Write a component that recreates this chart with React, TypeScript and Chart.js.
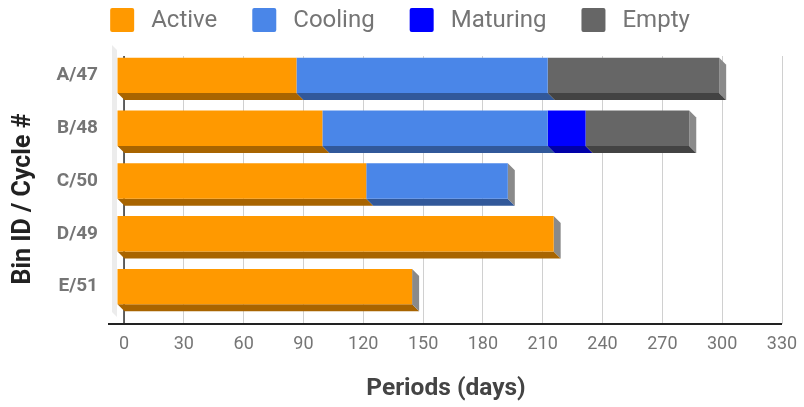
import React, { useEffect, useRef } from 'react';
import { Chart, registerables } from 'chart.js';

Chart.register(...registerables);

const categories = ['A/47', 'B/48', 'C/50', 'D/49', 'E/51'];
const seriesNames = ['Active', 'Cooling', 'Maturing', 'Empty'];
const activeDays = [90, 103, 125, 219, 148];
const coolingDays = [126, 113, 71, 0, 0];
const maturingDays = [0, 19, 0, 0, 0];
const emptyDays = [86, 52, 0, 0, 0];
const xMin = 0;
const xMax = 330;
const xStep = 30;

const faceColors = ['#ff9900', '#4a86e8', '#0000ff', '#666666'];
const bottomColors = ['#a86400', '#31589a', '#0000a8', '#434343'];
const sideColor = '#8a8a8a';
const DX = 7;
const DY = 7;
const TICK = 4;
const FONT = 'Roboto';

const depthPlugin = {
  id: 'depth3d',
  beforeDatasetsDraw(chart: any) {
    const ctx = chart.ctx;
    const { left, top, bottom } = chart.chartArea;
    const axisY = bottom + TICK;
    ctx.save();
    // left wall
    ctx.fillStyle = '#ececec';
    ctx.beginPath();
    ctx.moveTo(left - 12, top - 11);
    ctx.lineTo(left - DX, top - DY + 1);
    ctx.lineTo(left - DX, axisY - DY);
    ctx.lineTo(left, axisY);
    ctx.lineTo(left - 12, axisY - 12);
    ctx.closePath();
    ctx.fill();
    // vertical axis line on back plane
    ctx.strokeStyle = '#333333';
    ctx.lineWidth = 1.5;
    ctx.beginPath();
    ctx.moveTo(left, top);
    ctx.lineTo(left, axisY);
    ctx.stroke();
    ctx.restore();

    const nRows = chart.data.labels.length;
    const lastIdx: number[] = new Array(nRows).fill(-1);
    chart.data.datasets.forEach((ds: any, di: number) => {
      ds.data.forEach((v: number, i: number) => {
        if (v > 0) lastIdx[i] = di;
      });
    });

    ctx.save();
    chart.data.datasets.forEach((ds: any, di: number) => {
      const meta = chart.getDatasetMeta(di);
      meta.data.forEach((el: any, i: number) => {
        const x0 = Math.min(el.base, el.x);
        const x1 = Math.max(el.base, el.x);
        if (x1 - x0 < 0.5) return;
        const yb = el.y + el.height / 2;
        ctx.fillStyle = bottomColors[di];
        ctx.beginPath();
        ctx.moveTo(x0 - DX, yb - DY);
        ctx.lineTo(x1 - DX, yb - DY);
        ctx.lineTo(x1, yb);
        ctx.lineTo(x0, yb);
        ctx.closePath();
        ctx.fill();
        if (lastIdx[i] === di) {
          const yt = el.y - el.height / 2;
          ctx.fillStyle = sideColor;
          ctx.beginPath();
          ctx.moveTo(x1 - DX, yt - DY);
          ctx.lineTo(x1, yt);
          ctx.lineTo(x1, yb);
          ctx.lineTo(x1 - DX, yb - DY);
          ctx.closePath();
          ctx.fill();
        }
      });
    });
    ctx.restore();
    ctx.save();
    ctx.translate(-DX, -DY);
  },
  afterDatasetsDraw(chart: any) {
    const ctx = chart.ctx;
    ctx.restore();
    const { left, right, top, bottom } = chart.chartArea;
    const axisY = bottom + TICK;
    ctx.save();
    // x axis line
    ctx.strokeStyle = '#222222';
    ctx.lineWidth = 2;
    ctx.beginPath();
    ctx.moveTo(left - 16, axisY);
    ctx.lineTo(right, axisY);
    ctx.stroke();

    // axis titles
    ctx.fillStyle = '#444444';
    ctx.font = `bold 24.5px ${FONT}`;
    ctx.textAlign = 'center';
    ctx.textBaseline = 'middle';
    ctx.fillText('Periods (days)', (left + right) / 2 - DX, 389);

    ctx.save();
    ctx.fillStyle = '#222222';
    ctx.font = `bold 25px ${FONT}`;
    ctx.translate(24, (top + bottom) / 2 + 11);
    ctx.rotate(-Math.PI / 2);
    ctx.fillText('Bin ID / Cycle #', 0, 0);
    ctx.restore();

    // legend
    ctx.font = `24px ${FONT}`;
    ctx.textAlign = 'left';
    ctx.textBaseline = 'middle';
    const box = 24;
    const gapText = 17;
    const gapItem = 35;
    const widths = chart.data.datasets.map((ds: any) => box + gapText + ctx.measureText(ds.label).width);
    const total = widths.reduce((a: number, b: number) => a + b, 0) + gapItem * (widths.length - 1);
    let x = chart.width / 2 - 2 - total / 2;
    const cy = 20;
    chart.data.datasets.forEach((ds: any, di: number) => {
      ctx.fillStyle = faceColors[di];
      ctx.beginPath();
      (ctx as any).roundRect(x, cy - box / 2, box, box, 2);
      ctx.fill();
      ctx.fillStyle = '#757575';
      ctx.fillText(ds.label, x + box + gapText, cy + 1);
      x += widths[di] + gapItem;
    });
    ctx.restore();
  },
};

export default function App() {
  const ref = useRef<HTMLCanvasElement | null>(null);
  useEffect(() => {
    document.body.style.margin = '0';
    if (!ref.current) return;
    const seriesData = [activeDays, coolingDays, maturingDays, emptyDays];
    const chart = new Chart(ref.current, {
      type: 'bar',
      data: {
        labels: categories,
        datasets: seriesNames.map((name, i) => ({
          label: name,
          data: seriesData[i],
          backgroundColor: faceColors[i],
          borderWidth: 0,
          categoryPercentage: 1,
          barPercentage: 0.67,
          clip: false as any,
        })),
      },
      options: {
        indexAxis: 'y',
        animation: false,
        responsive: false,
        maintainAspectRatio: false,
        layout: { padding: { top: 56, right: 22, left: 0, bottom: 0 } },
        plugins: {
          legend: { display: false },
          tooltip: { enabled: false },
        },
        scales: {
          x: {
            stacked: true,
            min: xMin,
            max: xMax,
            ticks: {
              stepSize: xStep,
              color: '#757575',
              font: { family: FONT, size: 18 },
              padding: 10,
              maxRotation: 0,
            },
            grid: { color: '#d0d0d0', drawTicks: true, tickLength: TICK, lineWidth: 1 },
            border: { display: false },
            afterFit: (s: any) => {
              s.height = 87;
              s.paddingLeft = 0;
              s.paddingRight = 0;
            },
          },
          y: {
            stacked: true,
            ticks: {
              color: '#757575',
              font: { family: FONT, size: 19, weight: 'bold' },
              padding: 26,
              labelOffset: -DY,
            },
            grid: { display: false, drawTicks: false },
            border: { display: false },
            afterFit: (s: any) => {
              s.width = 124;
              s.paddingTop = 0;
              s.paddingBottom = 0;
            },
          },
        },
      },
      plugins: [depthPlugin],
    });
    return () => chart.destroy();
  }, []);
  return (
    <div style={{ width: 804, height: 407 }}>
      <canvas ref={ref} width={804} height={407} style={{ display: 'block' }} />
    </div>
  );
}
